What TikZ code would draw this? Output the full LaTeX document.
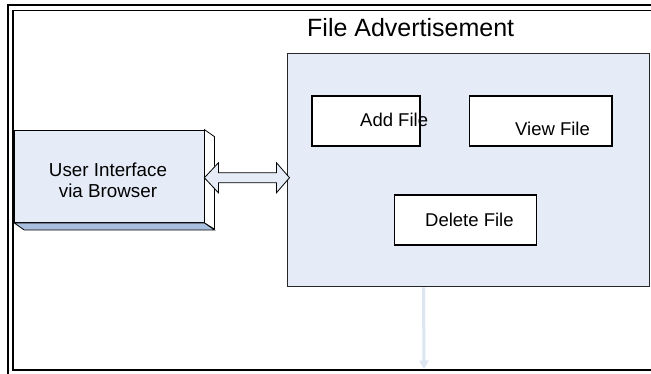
\documentclass[tikz,border=0pt]{standalone}
\usepackage{fontspec}
\setmainfont{Liberation Sans}
\usetikzlibrary{calc,arrows.meta}
\definecolor{paleblue}{HTML}{E5ECF7}
\definecolor{midblue}{HTML}{A9BFE0}
\definecolor{lineblue}{HTML}{DCE5F2}
\tikzset{
  panel/.style={draw=black!85,line width=1pt,fill=paleblue,inner sep=0pt},
  opbox/.style={draw=black,line width=1.6pt,fill=white,inner sep=0pt,minimum height=50pt},
  lbl/.style={inner sep=0pt,anchor=base west,font=\fontsize{18.5}{22}\selectfont},
  face/.style={draw=black,line width=0.8pt},
}
\begin{document}
\begin{tikzpicture}[x=1pt,y=-1pt]
\useasboundingbox (0,0) rectangle (651,373);
\fill[white] (0,0) rectangle (651,373);
\clip (0,0) rectangle (651,373);
% double frame
\draw[line width=2pt] (8,5) rectangle (662,380);
\draw[line width=1.5pt] (13.2,10.7) rectangle (657,370.2);
% title
\node[inner sep=0pt,anchor=base west,font=\fontsize{25}{30}\selectfont] (title) at (307,36) {File Advertisement};
% main panel
\node[panel,minimum width=362pt,minimum height=233pt] (fa) at (468,169.5) {};
% user interface 3D box
\node[face,fill=paleblue,inner sep=0pt,minimum width=189.5pt,minimum height=92.5pt] (ui) at (109.25,176.25) {};
\draw[face,fill=white] (ui.north east) -- ++(10,7) -- ++(0,92.5) -- (ui.south east) -- cycle;
\draw[face,fill=midblue] (ui.south west) -- (ui.south east) -- ++(10,7) -- ($(ui.south west)+(10,7)$) -- cycle;
\node[inner sep=0pt,anchor=base,font=\fontsize{18.8}{21.7}\selectfont] (uitxt1) at (108,176) {User Interface};
\node[inner sep=0pt,anchor=base,font=\fontsize{18.8}{21.7}\selectfont] (uitxt2) at (108,197.7) {via Browser};
% operation boxes
\node[opbox,minimum width=108pt] (add) at (366,121) {};
\node[lbl] (addl) at (360,126) {Add File};
\node[opbox,minimum width=142.5pt] (view) at (540.75,121) {};
\node[lbl] (viewl) at (515,135) {View File};
\node[opbox,minimum width=142pt] (del) at (465.5,220.25) {};
\node[lbl] (dell) at (425,226) {Delete File};
% double block arrow between UI and panel
\coordinate (al) at ($(ui.east)+(0,1.5)$);
\coordinate (ar) at ($(al -| fa.west)+(3,0)$);
\draw[line width=0.8pt,fill=paleblue,line join=miter]
  (al) -- ++(14,-15) -- ++(0,10) -- ($(ar)+(-13,-5)$) -- ++(0,-10) -- (ar)
  -- ++(-13,15) -- ++(0,-10) -- ($(al)+(14,5)$) -- ++(0,10) -- cycle;
% downward line from panel
\coordinate (vend) at (424,369.5);
\draw[lineblue,line width=3pt,-{Triangle[width=9pt,length=9pt]}] ($(fa.south west)+(137,0.8)$) -- (vend);
\end{tikzpicture}
\end{document}
